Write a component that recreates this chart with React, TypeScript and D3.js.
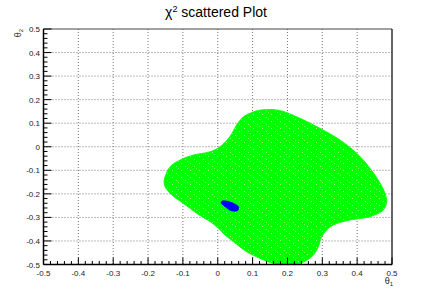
import React from "react";
import * as d3 from "d3";

const W = 436;
const H = 295;

// axis ranges and tick labels
const xDomain = [-0.5, 0.5];
const yDomain = [-0.5, 0.5];
const majorTicks = [-0.5, -0.4, -0.3, -0.2, -0.1, 0, 0.1, 0.2, 0.3, 0.4, 0.5];
const tickLabels = ["-0.5", "-0.4", "-0.3", "-0.2", "-0.1", "0", "0.1", "0.2", "0.3", "0.4", "0.5"];

// boundary of the green (allowed region) scatter, [theta1, theta2]
const greenRegionX = [
  0.0925, 0.1155, 0.150, 0.184, 0.236, 0.294, 0.351, 0.399, 0.437, 0.466, 0.480, 0.485,
  0.475, 0.437, 0.380, 0.332, 0.313, 0.298, 0.289, 0.270, 0.236, 0.207,
  0.188, 0.159, 0.121, 0.083, 0.045, 0.021, 0.002, -0.022, -0.060, -0.099, -0.132, -0.151,
  -0.154, -0.151, -0.137, -0.108, -0.070, -0.022, 0.0065, 0.035, 0.054, 0.0725,
];
const greenRegionY = [
  0.142, 0.154, 0.158, 0.152, 0.121, 0.078, 0.029, -0.028, -0.0915, -0.155, -0.198, -0.233,
  -0.269, -0.297, -0.311, -0.332, -0.353, -0.382, -0.424, -0.467, -0.495, -0.5,
  -0.5, -0.495, -0.474, -0.446, -0.403, -0.375, -0.346, -0.318, -0.283, -0.240, -0.205, -0.170,
  -0.146, -0.127, -0.085, -0.056, -0.035, -0.021, 0.0, 0.043, 0.092, 0.126,
];

// boundary of the blue (best-fit) scatter
const blueRegionX = [0.0122, 0.0265, 0.0438, 0.0581, 0.061, 0.0552, 0.0409, 0.0294, 0.0151, 0.0093];
const blueRegionY = [-0.2304, -0.2304, -0.2389, -0.2516, -0.2601, -0.2728, -0.2728, -0.2643, -0.2473, -0.2389];

const left = 43.5;
const right = 392;
const top = 29;
const bottom = 264.5;

export default function App() {
  const x = d3.scaleLinear().domain(xDomain).range([left, right]);
  const y = d3.scaleLinear().domain(yDomain).range([bottom, top]);

  const greenPts: [number, number][] = greenRegionX.map((v, i) => [x(v), y(greenRegionY[i])]);
  const bluePts: [number, number][] = blueRegionX.map((v, i) => [x(v), y(blueRegionY[i])]);
  const closed = d3.line().curve(d3.curveCatmullRomClosed.alpha(0.5));

  const minor: number[] = [];
  for (let i = 0; i < 10; i++) {
    for (let j = 1; j < 5; j++) minor.push(majorTicks[i] + (j * 0.1) / 5);
  }
  const font = "'Liberation Sans', Arial, Helvetica, sans-serif";

  return (
    <svg width={W} height={H} style={{ position: "absolute", left: 0, top: 0, background: "#fff" }}>
      <defs>
        <clipPath id="plotclip">
          <rect x={left} y={top} width={right - left} height={bottom - top} />
        </clipPath>
        <pattern id="speckle" width={9} height={7} patternUnits="userSpaceOnUse">
          <rect width={9} height={7} fill="#00ff00" />
          <rect x={1} y={2} width={1} height={1} fill="#fff" opacity={0.6} />
          <rect x={5} y={5} width={1} height={1} fill="#fff" opacity={0.5} />
          <rect x={7} y={0} width={1} height={1} fill="#fff" opacity={0.4} />
        </pattern>
      </defs>
      {/* grid */}
      {majorTicks.slice(1, -1).map((t) => (
        <g key={"g" + t}>
          <line x1={x(t)} x2={x(t)} y1={top} y2={bottom} stroke="#777" strokeWidth={1} strokeDasharray="1,2" />
          <line x1={left} x2={right} y1={y(t)} y2={y(t)} stroke="#777" strokeWidth={1} strokeDasharray="1,2" />
        </g>
      ))}
      <g clipPath="url(#plotclip)">
        <path d={closed(greenPts) || ""} fill="url(#speckle)" stroke="#00ff00" strokeWidth={0.8} />
        <path d={closed(bluePts) || ""} fill="#0000ff" stroke="#0000ff" strokeWidth={0.5} />
      </g>
      {/* frame */}
      <line x1={left} x2={right} y1={top} y2={top} stroke="#444" strokeWidth={1} />
      <line x1={right} x2={right} y1={top} y2={bottom} stroke="#000" strokeWidth={1.2} />
      <line x1={left} x2={right} y1={bottom} y2={bottom} stroke="#000" strokeWidth={1.5} />
      <line x1={left} x2={left} y1={top} y2={bottom} stroke="#000" strokeWidth={1.5} />
      {/* ticks */}
      {majorTicks.map((t) => (
        <g key={"t" + t}>
          <line x1={x(t)} x2={x(t)} y1={bottom} y2={bottom - 7} stroke="#000" />
          <line x1={left} x2={left + 8} y1={y(t)} y2={y(t)} stroke="#000" />
        </g>
      ))}
      {minor.map((t) => (
        <g key={"m" + t}>
          <line x1={x(t)} x2={x(t)} y1={bottom} y2={bottom - 3.5} stroke="#000" />
          <line x1={left} x2={left + 4} y1={y(t)} y2={y(t)} stroke="#000" />
        </g>
      ))}
      {/* tick labels */}
      {majorTicks.map((t, i) => (
        <text key={"xl" + t} x={x(t)} y={275.5} fontSize={8} fontFamily={font} textAnchor="middle" fill="#222">
          {tickLabels[i]}
        </text>
      ))}
      {majorTicks.map((t, i) => (
        <text key={"yl" + t} x={40} y={y(t) + 3} fontSize={8} fontFamily={font} textAnchor="end" fill="#222">
          {tickLabels[i]}
        </text>
      ))}
      {/* axis titles */}
      <text x={393} y={284} fontSize={9} fontFamily={font} textAnchor="end" fill="#222">
        θ<tspan fontSize={6} dy={2}>1</tspan>
      </text>
      <text transform={`translate(21,29) rotate(-90)`} fontSize={9} fontFamily={font} textAnchor="end" fill="#222">
        θ<tspan fontSize={6} dy={2}>2</tspan>
      </text>
      {/* title */}
      <text x={216} y={17} fontSize={14} fontFamily={font} textAnchor="middle" fill="#000">
        χ<tspan fontSize={9} dy={-5}>2</tspan>
        <tspan dy={5}> scattered Plot</tspan>
      </text>
    </svg>
  );
}
